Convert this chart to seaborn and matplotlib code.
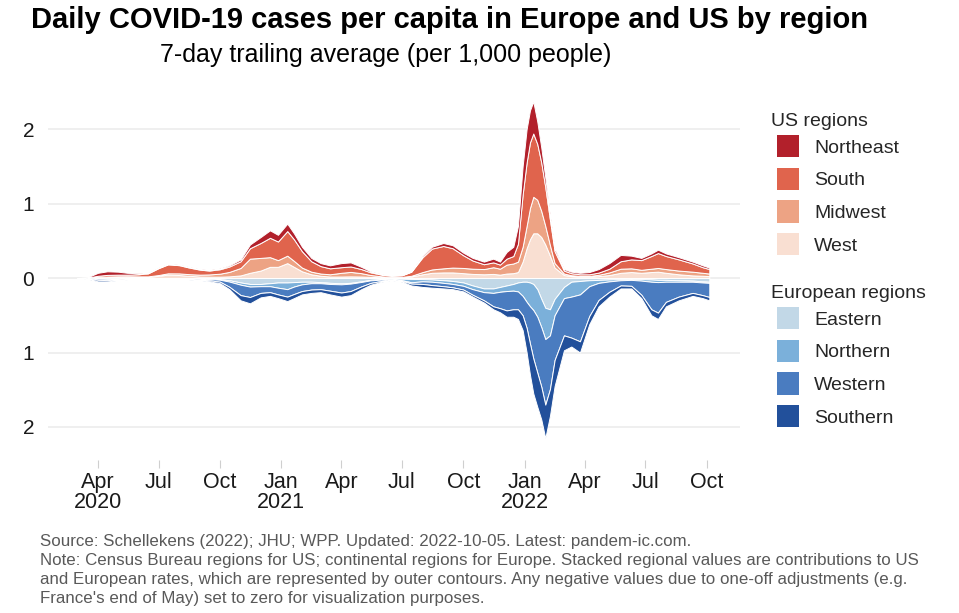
import numpy as np
import pandas as pd
import seaborn as sns
import matplotlib.pyplot as plt
from matplotlib.patches import Patch
from matplotlib.ticker import FuncFormatter

# =========================================================
# DATA (7-day avg cases per 1,000)
# =========================================================
dates = pd.to_datetime([
    "2020-03-01", "2020-03-15", "2020-04-01", "2020-04-15", "2020-05-01", "2020-05-15",
    "2020-06-01", "2020-06-15", "2020-07-01", "2020-07-15", "2020-08-01", "2020-08-15",
    "2020-09-01", "2020-09-15", "2020-10-01", "2020-10-15", "2020-11-01", "2020-11-15",
    "2020-12-01", "2020-12-15", "2020-12-27", "2021-01-10", "2021-01-20", "2021-02-01",
    "2021-02-15", "2021-03-01", "2021-03-15", "2021-04-01", "2021-04-15", "2021-05-01",
    "2021-05-15", "2021-06-01", "2021-06-15", "2021-07-01", "2021-07-15", "2021-08-01",
    "2021-08-15", "2021-09-01", "2021-09-15", "2021-10-01", "2021-10-15", "2021-11-01",
    "2021-11-15", "2021-11-25", "2021-12-05", "2021-12-15", "2021-12-22", "2021-12-29",
    "2022-01-04", "2022-01-09", "2022-01-14", "2022-01-20", "2022-01-26", "2022-02-01",
    "2022-02-08", "2022-02-15", "2022-03-01", "2022-03-12", "2022-03-25", "2022-04-08",
    "2022-04-22", "2022-05-08", "2022-05-25", "2022-06-10", "2022-06-25", "2022-07-10",
    "2022-07-20", "2022-08-01", "2022-08-20", "2022-09-10", "2022-09-25", "2022-10-05",
])

# US regions (stacked upward: West, Midwest, South, Northeast)
us_west = [0, 0.001, 0.008, 0.01, 0.01, 0.01, 0.011, 0.014, 0.03, 0.045, 0.04, 0.03,
           0.02, 0.018, 0.018, 0.022, 0.035, 0.07, 0.1, 0.15, 0.15, 0.2, 0.15, 0.09,
           0.05, 0.03, 0.02, 0.02, 0.022, 0.02, 0.015, 0.01, 0.008, 0.009, 0.02, 0.05,
           0.07, 0.075, 0.075, 0.065, 0.055, 0.05, 0.055, 0.045, 0.06, 0.065, 0.08, 0.22,
           0.4, 0.52, 0.6, 0.6, 0.55, 0.45, 0.3, 0.14, 0.04, 0.025, 0.018, 0.018,
           0.025, 0.04, 0.07, 0.08, 0.07, 0.08, 0.085, 0.07, 0.05, 0.035, 0.03, 0.025]
us_midwest = [0, 0.001, 0.006, 0.01, 0.013, 0.014, 0.011, 0.008, 0.01, 0.018, 0.022, 0.022,
              0.025, 0.03, 0.04, 0.06, 0.1, 0.19, 0.17, 0.13, 0.09, 0.1, 0.08, 0.05,
              0.035, 0.03, 0.03, 0.05, 0.06, 0.045, 0.025, 0.012, 0.007, 0.006, 0.01, 0.03,
              0.045, 0.055, 0.065, 0.07, 0.07, 0.07, 0.09, 0.08, 0.12, 0.13, 0.14, 0.2,
              0.3, 0.42, 0.49, 0.45, 0.35, 0.25, 0.14, 0.06, 0.02, 0.012, 0.01, 0.01,
              0.018, 0.035, 0.055, 0.05, 0.04, 0.045, 0.05, 0.05, 0.05, 0.05, 0.04, 0.035]
us_south = [0, 0.001, 0.016, 0.022, 0.022, 0.021, 0.028, 0.04, 0.093, 0.12, 0.11, 0.09,
            0.067, 0.052, 0.06, 0.072, 0.09, 0.14, 0.2, 0.26, 0.25, 0.33, 0.29, 0.22,
            0.14, 0.1, 0.08, 0.075, 0.073, 0.055, 0.036, 0.022, 0.017, 0.022, 0.055, 0.2,
            0.28, 0.3, 0.26, 0.17, 0.11, 0.065, 0.065, 0.055, 0.08, 0.1, 0.24, 0.7,
            0.85, 0.88, 0.85, 0.75, 0.65, 0.52, 0.34, 0.16, 0.04, 0.028, 0.022, 0.022,
            0.03, 0.05, 0.1, 0.12, 0.13, 0.17, 0.2, 0.175, 0.15, 0.11, 0.075, 0.06]
us_northeast = [0, 0.002, 0.04, 0.048, 0.04, 0.025, 0.013, 0.008, 0.007, 0.007, 0.008, 0.008,
                0.008, 0.01, 0.012, 0.016, 0.025, 0.05, 0.08, 0.1, 0.09, 0.1, 0.08, 0.06,
                0.045, 0.04, 0.04, 0.055, 0.055, 0.03, 0.014, 0.006, 0.003, 0.003, 0.005, 0.02,
                0.025, 0.04, 0.04, 0.035, 0.035, 0.035, 0.05, 0.04, 0.09, 0.125, 0.24, 0.38,
                0.45, 0.43, 0.43, 0.3, 0.2, 0.13, 0.07, 0.04, 0.02, 0.02, 0.02, 0.03,
                0.047, 0.075, 0.085, 0.05, 0.03, 0.035, 0.045, 0.035, 0.03, 0.025, 0.025, 0.02]

# European regions (stacked downward: Eastern, Northern, Western, Southern)
eu_eastern = [0, 0.0005, 0.002, 0.004, 0.006, 0.008, 0.008, 0.008, 0.008, 0.007, 0.007, 0.007,
              0.008, 0.01, 0.015, 0.03, 0.06, 0.08, 0.08, 0.07, 0.06, 0.06, 0.055, 0.05,
              0.05, 0.055, 0.065, 0.07, 0.065, 0.045, 0.025, 0.015, 0.01, 0.01, 0.012, 0.015,
              0.02, 0.03, 0.04, 0.06, 0.1, 0.14, 0.14, 0.12, 0.1, 0.08, 0.06, 0.05,
              0.05, 0.06, 0.08, 0.15, 0.28, 0.4, 0.42, 0.28, 0.12, 0.05, 0.04, 0.03,
              0.025, 0.02, 0.015, 0.015, 0.015, 0.02, 0.025, 0.025, 0.03, 0.035, 0.045, 0.05]
eu_northern = [0, 0.0015, 0.006, 0.008, 0.006, 0.004, 0.003, 0.002, 0.001, 0.001, 0.001, 0.001,
               0.002, 0.004, 0.008, 0.018, 0.03, 0.035, 0.03, 0.04, 0.07, 0.09, 0.06, 0.035,
               0.02, 0.015, 0.015, 0.015, 0.01, 0.008, 0.006, 0.006, 0.008, 0.02, 0.045, 0.03,
               0.03, 0.035, 0.04, 0.045, 0.05, 0.05, 0.06, 0.065, 0.075, 0.09, 0.12, 0.19,
               0.27, 0.32, 0.35, 0.37, 0.38, 0.42, 0.35, 0.22, 0.15, 0.2, 0.18, 0.08,
               0.04, 0.025, 0.015, 0.01, 0.02, 0.03, 0.03, 0.025, 0.02, 0.015, 0.015, 0.015]
eu_western = [0, 0.003, 0.017, 0.016, 0.008, 0.004, 0.002, 0.002, 0.002, 0.002, 0.003, 0.005,
              0.009, 0.016, 0.027, 0.07, 0.14, 0.14, 0.09, 0.08, 0.09, 0.1, 0.1, 0.09,
              0.085, 0.08, 0.09, 0.11, 0.1, 0.06, 0.035, 0.017, 0.007, 0.008, 0.018, 0.035,
              0.045, 0.045, 0.045, 0.05, 0.075, 0.11, 0.18, 0.22, 0.26, 0.25, 0.24, 0.26,
              0.35, 0.5, 0.65, 0.75, 0.8, 0.88, 0.72, 0.6, 0.5, 0.55, 0.63, 0.4,
              0.23, 0.14, 0.07, 0.08, 0.19, 0.37, 0.41, 0.27, 0.2, 0.15, 0.17, 0.19]
eu_southern = [0, 0.005, 0.02, 0.017, 0.01, 0.004, 0.002, 0.002, 0.002, 0.003, 0.004, 0.007,
               0.011, 0.015, 0.02, 0.032, 0.07, 0.085, 0.06, 0.05, 0.05, 0.06, 0.055, 0.045,
               0.045, 0.04, 0.05, 0.055, 0.055, 0.037, 0.024, 0.012, 0.005, 0.012, 0.025, 0.04,
               0.035, 0.03, 0.025, 0.025, 0.025, 0.03, 0.04, 0.055, 0.085, 0.1, 0.13, 0.2,
               0.33, 0.42, 0.47, 0.46, 0.44, 0.45, 0.36, 0.35, 0.2, 0.12, 0.15, 0.11,
               0.085, 0.065, 0.04, 0.035, 0.045, 0.08, 0.085, 0.06, 0.05, 0.04, 0.04, 0.045]

us_names = ["Northeast", "South", "Midwest", "West"]
us_colors = ["#B2202B", "#E0644D", "#EDA384", "#F9DFD2"]
eu_names = ["Eastern", "Northern", "Western", "Southern"]
eu_colors = ["#C2D8E7", "#7BB0DA", "#4A7CC0", "#22509B"]

tick_dates = pd.to_datetime(["2020-04-01", "2020-07-01", "2020-10-01", "2021-01-01",
                             "2021-04-01", "2021-07-01", "2021-10-01", "2022-01-01",
                             "2022-04-01", "2022-07-01", "2022-10-01"])
tick_labels = ["Apr\n2020", "Jul", "Oct", "Jan\n2021", "Apr", "Jul", "Oct",
               "Jan\n2022", "Apr", "Jul", "Oct"]

# =========================================================
# PLOT
# =========================================================
sns.set_theme(style="whitegrid")
plt.rcParams["font.family"] = ["Liberation Sans", "DejaVu Sans"]

fig = plt.figure(figsize=(9.59, 6.13), dpi=100)
ax = fig.add_axes([0.05, 0.2496, 0.7216, 0.5946])

# US stacked upward, west at the bottom
base = np.zeros(len(dates))
for vals, col in zip([us_west, us_midwest, us_south, us_northeast], us_colors[::-1]):
    top = base + np.array(vals)
    ax.fill_between(dates, base, top, facecolor=col, edgecolor="white", lw=0.7, zorder=3)
    base = top

# Europe stacked downward, eastern next to zero
base = np.zeros(len(dates))
for vals, col in zip([eu_eastern, eu_northern, eu_western, eu_southern], eu_colors):
    bot = base - np.array(vals)
    ax.fill_between(dates, bot, base, facecolor=col, edgecolor="white", lw=0.7, zorder=3)
    base = bot

ax.set_xlim(pd.Timestamp("2020-01-17"), pd.Timestamp("2022-11-20"))
ax.set_ylim(-2.443, 2.45)

ax.set_yticks([-2, -1, 0, 1, 2])
ax.yaxis.set_major_formatter(FuncFormatter(lambda v, p: f"{abs(v):g}"))
ax.set_xticks(tick_dates)
ax.set_xticklabels(tick_labels, linespacing=0.9)

ax.grid(axis="x", visible=False)
ax.grid(axis="y", color="#EBEBEB", lw=1.1)
for s in ax.spines.values():
    s.set_visible(False)
ax.tick_params(axis="x", bottom=True, length=6, width=0.8, color="#CFCFCF",
               labelsize=15.5, labelcolor="#1A1A1A", pad=3)
ax.tick_params(axis="y", left=False, labelsize=15, labelcolor="#1A1A1A", pad=4)

# Titles
fig.text(0.469, 1 - 20 / 613, "Daily COVID-19 cases per capita in Europe and US by region",
         ha="center", va="center", fontsize=21, fontweight="bold", color="black")
fig.text(386 / 959, 1 - 55 / 613, "7-day trailing average (per 1,000 people)",
         ha="center", va="center", fontsize=18, color="black")

# Legends
fig.text(771 / 959, 1 - 121 / 613, "US regions", ha="left", va="center", fontsize=14)
fig.text(771 / 959, 1 - 293 / 613, "European regions", ha="left", va="center", fontsize=14)
leg_kw = dict(frameon=False, fontsize=14, handlelength=1.13, handleheight=1.39,
              labelspacing=0.53, handletextpad=0.77, borderpad=0, borderaxespad=0,
              loc="upper left")
leg1 = fig.legend(handles=[Patch(facecolor=c, edgecolor="none") for c in us_colors],
                  labels=us_names, bbox_to_anchor=(777 / 959, 1 - 135 / 613), **leg_kw)
leg2 = fig.legend(handles=[Patch(facecolor=c, edgecolor="none") for c in eu_colors],
                  labels=eu_names, bbox_to_anchor=(777 / 959, 1 - 307 / 613), **leg_kw)

# Caption
caption = ("Source: Schellekens (2022); JHU; WPP. Updated: 2022-10-05. Latest: pandem-ic.com.\n"
           "Note: Census Bureau regions for US; continental regions for Europe. Stacked regional values are contributions to US\n"
           "and European rates, which are represented by outer contours. Any negative values due to one-off adjustments (e.g.\n"
           "France's end of May) set to zero for visualization purposes.")
fig.text(40 / 959, 1 - 534 / 613, caption, ha="left", va="top", fontsize=12.2,
         color="#595959", linespacing=1.32)

fig.savefig("out.png", dpi=100)
